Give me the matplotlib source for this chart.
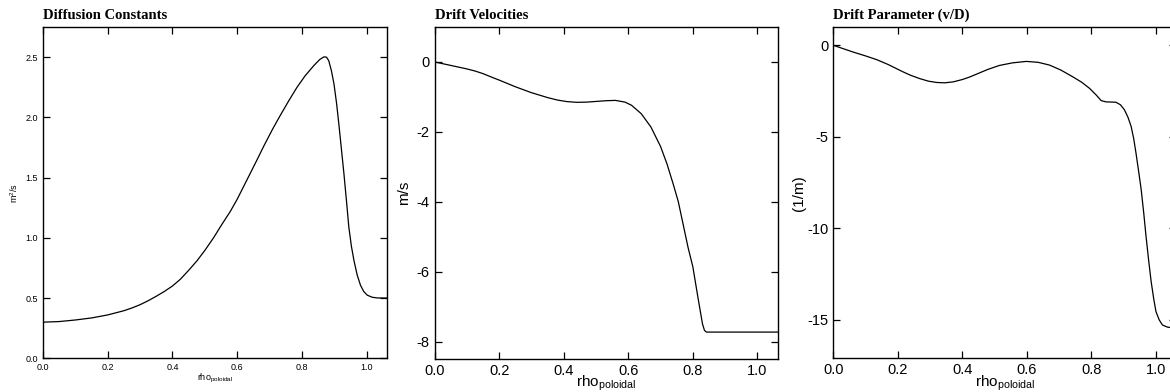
import matplotlib
matplotlib.use("Agg")
import matplotlib.pyplot as plt

plt.rcParams['font.family'] = ['Liberation Sans', 'DejaVu Sans']
plt.rcParams['mathtext.fontset'] = 'custom'
plt.rcParams['mathtext.rm'] = 'Liberation Sans'

# ---- data ----
rho_D = [0.0, 0.05, 0.10, 0.15, 0.20, 0.25, 0.275, 0.30, 0.325, 0.35, 0.375, 0.40,
         0.424, 0.45, 0.476,
         0.50, 0.527, 0.55, 0.579, 0.60, 0.631, 0.66, 0.682, 0.71, 0.734, 0.76, 0.785,
         0.81, 0.837, 0.855, 0.868, 0.876, 0.883, 0.891, 0.899, 0.907, 0.914, 0.922,
         0.930, 0.938, 0.945, 0.953, 0.961, 0.971, 0.981, 0.991, 1.002, 1.017, 1.033,
         1.065]
D_vals = [0.30, 0.305, 0.318, 0.335, 0.36, 0.395, 0.418, 0.445, 0.478, 0.515, 0.555, 0.60,
          0.655, 0.73, 0.81,
          0.895, 1.00, 1.10, 1.22, 1.32, 1.485, 1.64, 1.76, 1.905, 2.02, 2.14, 2.25,
          2.345, 2.43, 2.48, 2.502, 2.50, 2.47, 2.39, 2.28, 2.12, 1.95, 1.74,
          1.53, 1.30, 1.09, 0.93, 0.81, 0.69, 0.607, 0.555, 0.524, 0.507, 0.501,
          0.50]

rho_v = [0.0, 0.05, 0.10, 0.125, 0.15, 0.175, 0.20, 0.25, 0.30, 0.35, 0.38, 0.41,
         0.44, 0.47, 0.50, 0.53, 0.56, 0.59, 0.61, 0.64, 0.67, 0.70, 0.72, 0.74,
         0.755, 0.77, 0.785, 0.80, 0.816, 0.83, 0.836, 0.842, 0.90, 1.00, 1.065]
v_vals = [0.0, -0.10, -0.20, -0.26, -0.335, -0.43, -0.52, -0.71, -0.88, -1.02, -1.09, -1.135,
          -1.155, -1.15, -1.13, -1.11, -1.10, -1.15, -1.24, -1.48, -1.86, -2.42, -2.92, -3.52,
          -4.0, -4.65, -5.30, -5.86, -6.75, -7.50, -7.68, -7.73, -7.73, -7.73, -7.73]

rho_p = [0.0, 0.06, 0.10, 0.134, 0.17, 0.216, 0.24, 0.268, 0.295, 0.32, 0.345, 0.371,
         0.40, 0.423, 0.45, 0.48, 0.515, 0.555, 0.598, 0.635, 0.67, 0.705, 0.742, 0.77,
         0.794, 0.815, 0.830, 0.845, 0.860, 0.876, 0.890, 0.902, 0.913, 0.923, 0.931,
         0.938, 0.946, 0.954, 0.962, 0.969, 0.977, 0.985, 0.993, 1.0, 1.01, 1.02, 1.036,
         1.065]
p_vals = [0.0, -0.36, -0.58, -0.78, -1.05, -1.45, -1.64, -1.82, -1.96, -2.03, -2.05, -2.00,
          -1.87, -1.73, -1.53, -1.31, -1.10, -0.96, -0.88, -0.93, -1.08, -1.35, -1.72, -2.02,
          -2.35, -2.72, -3.02, -3.09, -3.10, -3.11, -3.25, -3.52, -3.92, -4.43, -5.10,
          -5.88, -6.85, -7.86, -9.15, -10.4, -11.7, -12.9, -13.85, -14.55, -15.0, -15.28, -15.4,
          -15.45]

xticks = [0.0, 0.2, 0.4, 0.6, 0.8, 1.0]
xticklabels = ['0.0', '0.2', '0.4', '0.6', '0.8', '1.0']
yticks_D = [0.0, 0.5, 1.0, 1.5, 2.0, 2.5]
yticklabels_D = ['0.0', '0.5', '1.0', '1.5', '2.0', '2.5']
yticks_v = [0, -2, -4, -6, -8]
yticklabels_v = ['0', '-2', '-4', '-6', '-8']
yticks_p = [0, -5, -10, -15]
yticklabels_p = ['0', '-5', '-10', '-15']

titles = ['Diffusion Constants', 'Drift Velocities', 'Drift Parameter (v/D)']
ylabels = [r'm$^{\mathregular{2}}$/s', 'm/s', '(1/m)']
xlabel = r'rho$_{\mathregular{poloidal}}$'

W, H = 1170, 392
fig = plt.figure(figsize=(W / 100, H / 100), dpi=100)

def px_axes(left, right, top, bottom):
    return fig.add_axes([left / W, 1 - bottom / H, (right - left) / W, (bottom - top) / H])

axes = [px_axes(43, 387, 27, 358.3),
        px_axes(434.7, 777.7, 27, 359),
        px_axes(833.3, 1176.3, 27, 358.3)]

series = [(rho_D, D_vals), (rho_v, v_vals), (rho_p, p_vals)]
ylims = [(0.0, 2.75), (-8.5, 1.0), (-17.1, 1.0)]
yt = [(yticks_D, yticklabels_D), (yticks_v, yticklabels_v), (yticks_p, yticklabels_p)]
tick_fs = [6.5, 10.5, 10.5]
xlab_fs = [6.5, 11, 11]
xlab_pad = [0, -3, -3]
ylab_pad = [4, 4, 1]

for i, ax in enumerate(axes):
    x, y = series[i]
    ax.plot(x, y, color='black', lw=0.9)
    ax.set_xlim(0, 1.063)
    ax.set_ylim(*ylims[i])
    ax.set_xticks(xticks)
    ax.set_xticklabels(xticklabels)
    ax.set_yticks(yt[i][0])
    ax.set_yticklabels(yt[i][1])
    ax.tick_params(direction='in', length=5, width=0.9, top=True, right=True,
                   labelsize=tick_fs[i], pad=3.5)
    for s in ax.spines.values():
        s.set_linewidth(1.0)
    ax.set_title(titles[i], loc='left', fontsize=10.5, fontweight='bold',
                 family='Liberation Serif', pad=6)
    ax.set_xlabel(xlabel, fontsize=xlab_fs[i], labelpad=xlab_pad[i])
    ax.set_ylabel(ylabels[i], fontsize=xlab_fs[i], labelpad=ylab_pad[i])

fig.savefig('out.png', dpi=100)
